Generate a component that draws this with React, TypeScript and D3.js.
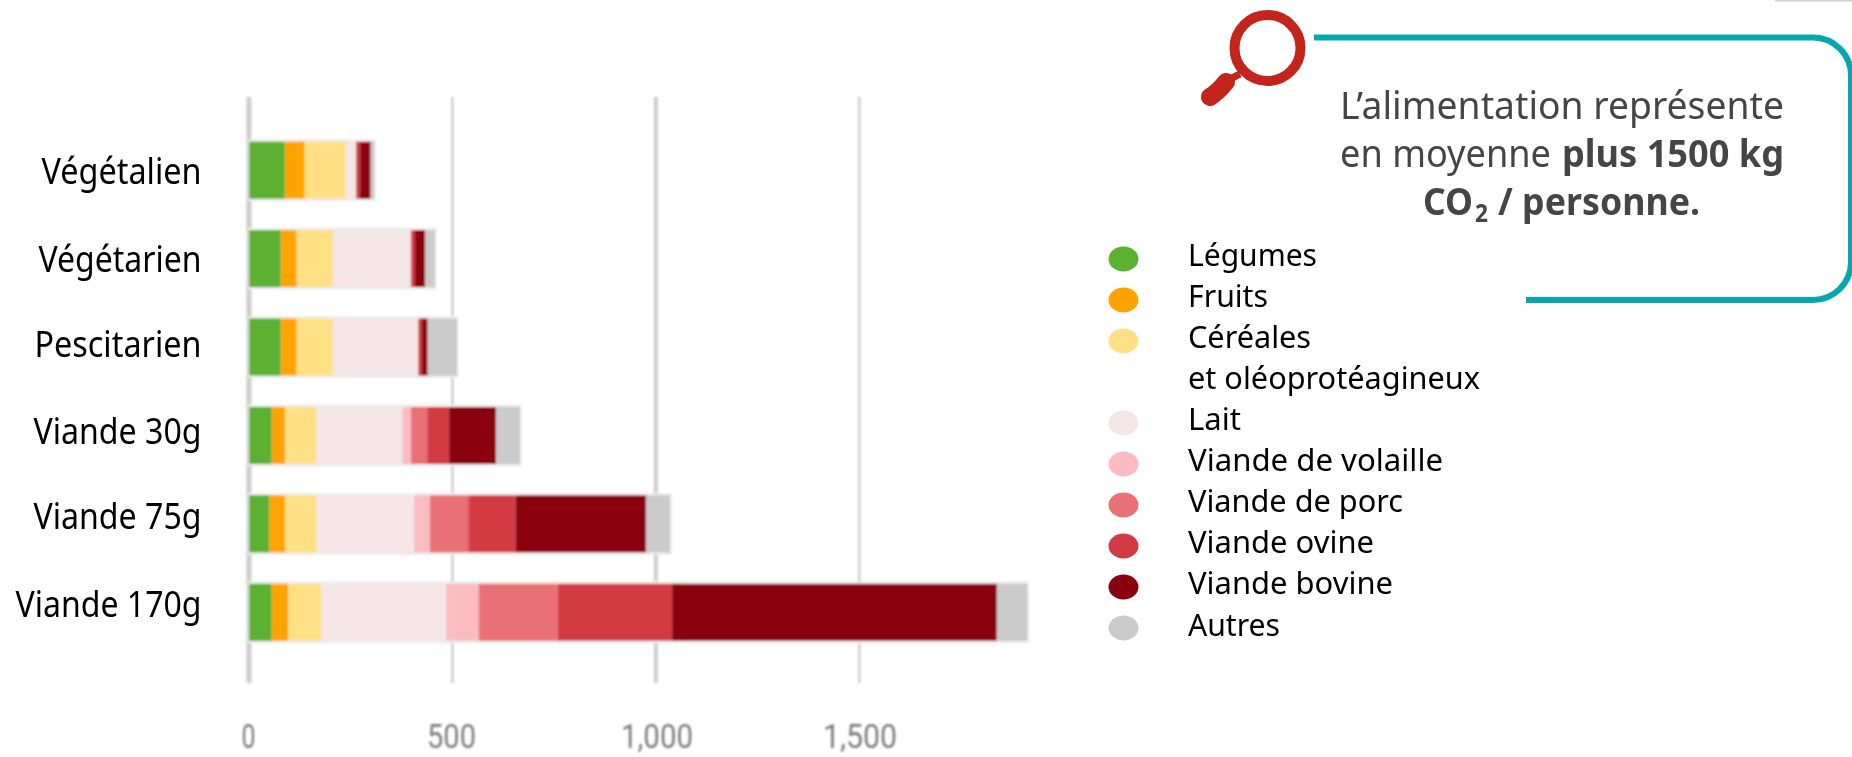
import React from "react";
import * as d3 from "d3";

const diets = ["Végétalien", "Végétarien", "Pescitarien", "Viande 30g", "Viande 75g", "Viande 170g"];
const seriesKeys = ["Légumes", "Fruits", "Céréales", "Lait", "Viande de volaille", "Viande de porc", "Viande ovine", "Viande bovine", "Autres"];
const legumes = [88, 78, 78, 56, 50, 56];
const fruits = [49, 39, 39, 33, 39, 40];
const cereales = [101, 89, 89, 77, 77, 82];
const lait = [25, 192, 210, 211, 240, 307];
const volaille = [0, 0, 0, 21, 39, 80];
const porc = [0, 0, 0, 40, 94, 194];
const ovine = [9, 10, 8, 54, 116, 281];
const bovine = [27, 25, 15, 115, 321, 798];
const autres = [9, 24, 72, 59, 59, 75];
const seriesValues = [legumes, fruits, cereales, lait, volaille, porc, ovine, bovine, autres];
const colors = ["#5cb133", "#ffa304", "#ffe085", "#f4e6e7", "#fbbcc1", "#e96f74", "#d33a43", "#8a000c", "#cbcbcb"];
const ticks = [0, 500, 1000, 1500];

const legendRows = [
  { text: "Légumes", row: 0, dot: 0 },
  { text: "Fruits", row: 1, dot: 1 },
  { text: "Céréales", row: 2, dot: 2 },
  { text: "et oléoprotéagineux", row: 3, dot: -1 },
  { text: "Lait", row: 4, dot: 3 },
  { text: "Viande de volaille", row: 5, dot: 4 },
  { text: "Viande de porc", row: 6, dot: 5 },
  { text: "Viande ovine", row: 7, dot: 6 },
  { text: "Viande bovine", row: 8, dot: 7 },
  { text: "Autres", row: 9, dot: 8 },
];

// fitted text widths
const legendW: Record<string, number> = {
  "Légumes": 129, "Fruits": 80, "Céréales": 123, "et oléoprotéagineux": 292, "Lait": 53,
  "Viande de volaille": 255, "Viande de porc": 215, "Viande ovine": 186, "Viande bovine": 205, "Autres": 92,
};
const dietW: Record<string, number> = {
  "Végétalien": 160, "Végétarien": 163, "Pescitarien": 167, "Viande 30g": 168, "Viande 75g": 168, "Viande 170g": 186,
};
const dietBase = [184, 272, 357, 444, 529, 617];
const tickW = [14, 49, 72, 74];
const tickCx = [248.5, 451.5, 657, 860];
const gridW = [5, 2.5, 4, 2.5];
const sans = "'Noto Sans', sans-serif";

export default function App() {
  const x = d3.scaleLinear().domain([0, 1500]).range([249, 859.3]);
  const y = d3.scaleBand<string>().domain(diets).range([126, 656.5]).paddingInner(0.356).paddingOuter(0.178);
  const rowsTable = diets.map((d, i) => {
    const o: Record<string, number> = {};
    seriesKeys.forEach((k, j) => (o[k] = seriesValues[j][i]));
    return o;
  });
  const stacked = d3.stack<Record<string, number>>().keys(seriesKeys)(rowsTable);
  const rowY = d3.scaleLinear().domain([0, 9]).range([259, 628]);
  const rowText = d3.scaleLinear().domain([0, 9]).range([265.5, 635.5]);
  const barH = y.bandwidth();
  return (
    <svg width={1852} height={757} style={{ position: "absolute", left: 0, top: 0, display: "block", background: "#fff" }}>
      <defs>
        <filter id="b1" x="-5%" y="-5%" width="110%" height="110%"><feGaussianBlur stdDeviation="0.9" /></filter>
        <filter id="b2" x="-20%" y="-20%" width="140%" height="140%"><feGaussianBlur stdDeviation="0.8" /></filter>
        <filter id="b3" x="-5%" y="-20%" width="110%" height="140%"><feGaussianBlur stdDeviation="0.35" /></filter>
      </defs>
      <rect x={1775} y={0} width={77} height={1.5} fill="#cfcfcf" />
      <g filter="url(#b1)">
        {ticks.map((t, i) => (
          <line key={t} x1={x(t)} x2={x(t)} y1={97} y2={683} stroke="#cdcdcd" strokeWidth={gridW[i]} />
        ))}
        {diets.map((d, i) => (
          <rect key={d} x={x(0) - 1} y={y(d)! - 2.5} height={barH + 5}
            width={x(stacked[stacked.length - 1][i][1]) - x(0) + 2.5} fill="#ececec" />
        ))}
        {stacked.map((s, j) => (
          <g key={s.key} fill={colors[j]}>
            {s.map((v, i) => (
              <rect key={i} x={x(v[0])} width={Math.max(0, x(v[1]) - x(v[0]))} y={y(diets[i])} height={barH} />
            ))}
          </g>
        ))}
      </g>
      <g filter="url(#b3)" fontFamily={sans} fontSize={36} fill="#000" textAnchor="end">
        {diets.map((d, i) => (
          <text key={d} x={201.5} y={dietBase[i]} textLength={dietW[d]} lengthAdjust="spacingAndGlyphs">{d}</text>
        ))}
      </g>
      <g filter="url(#b2)" fontFamily="Roboto, sans-serif" fontSize={34} fill="#7d7d7d" textAnchor="middle">
        {ticks.map((t, i) => (
          <text key={t} x={tickCx[i]} y={748} textLength={tickW[i]} lengthAdjust="spacingAndGlyphs">{d3.format(",")(t)}</text>
        ))}
      </g>
      <g filter="url(#b3)">
        {legendRows.filter((r) => r.dot >= 0).map((r) => (
          <ellipse key={r.text} cx={1123.5} cy={rowY(r.row)} rx={15} ry={12.5} fill={colors[r.dot]} />
        ))}
      </g>
      <g filter="url(#b3)" fontFamily={sans} fontSize={31} fill="#000">
        {legendRows.map((r) => (
          <text key={r.text} x={1188} y={rowText(r.row)} textLength={legendW[r.text]} lengthAdjust="spacingAndGlyphs">{r.text}</text>
        ))}
      </g>
      <path d="M1314,37.5 L1813,37.5 A38,38 0 0 1 1851,75.5 L1851,262 A38,38 0 0 1 1813,300 L1526,300"
        fill="none" stroke="#04a7b0" strokeWidth={6} />
      <g fill="none" stroke="#c3241b">
        <ellipse cx={1267.5} cy={48} rx={33} ry={33} strokeWidth={10} />
        <path d="M1226,82 Q1218,92 1210,97" strokeWidth={18} strokeLinecap="round" />
        <path d="M1240,74 L1224,82" strokeWidth={7} />
      </g>
      <g filter="url(#b3)" fontFamily={sans} fontSize={38} fill="#454545">
        <text x={1340} y={119} textLength={444} lengthAdjust="spacingAndGlyphs">L’alimentation représente</text>
        <text x={1340} y={167} textLength={211} lengthAdjust="spacingAndGlyphs">en moyenne</text>
        <text x={1562} y={167} textLength={222} lengthAdjust="spacingAndGlyphs" fontWeight={700}>plus 1500 kg</text>
        <text x={1423} y={215} textLength={50} lengthAdjust="spacingAndGlyphs" fontWeight={700}>CO</text>
        <text x={1475} y={222} textLength={13} lengthAdjust="spacingAndGlyphs" fontWeight={700} fontSize={25}>2</text>
        <text x={1498} y={215} textLength={202} lengthAdjust="spacingAndGlyphs" fontWeight={700}>/ personne.</text>
      </g>
    </svg>
  );
}
